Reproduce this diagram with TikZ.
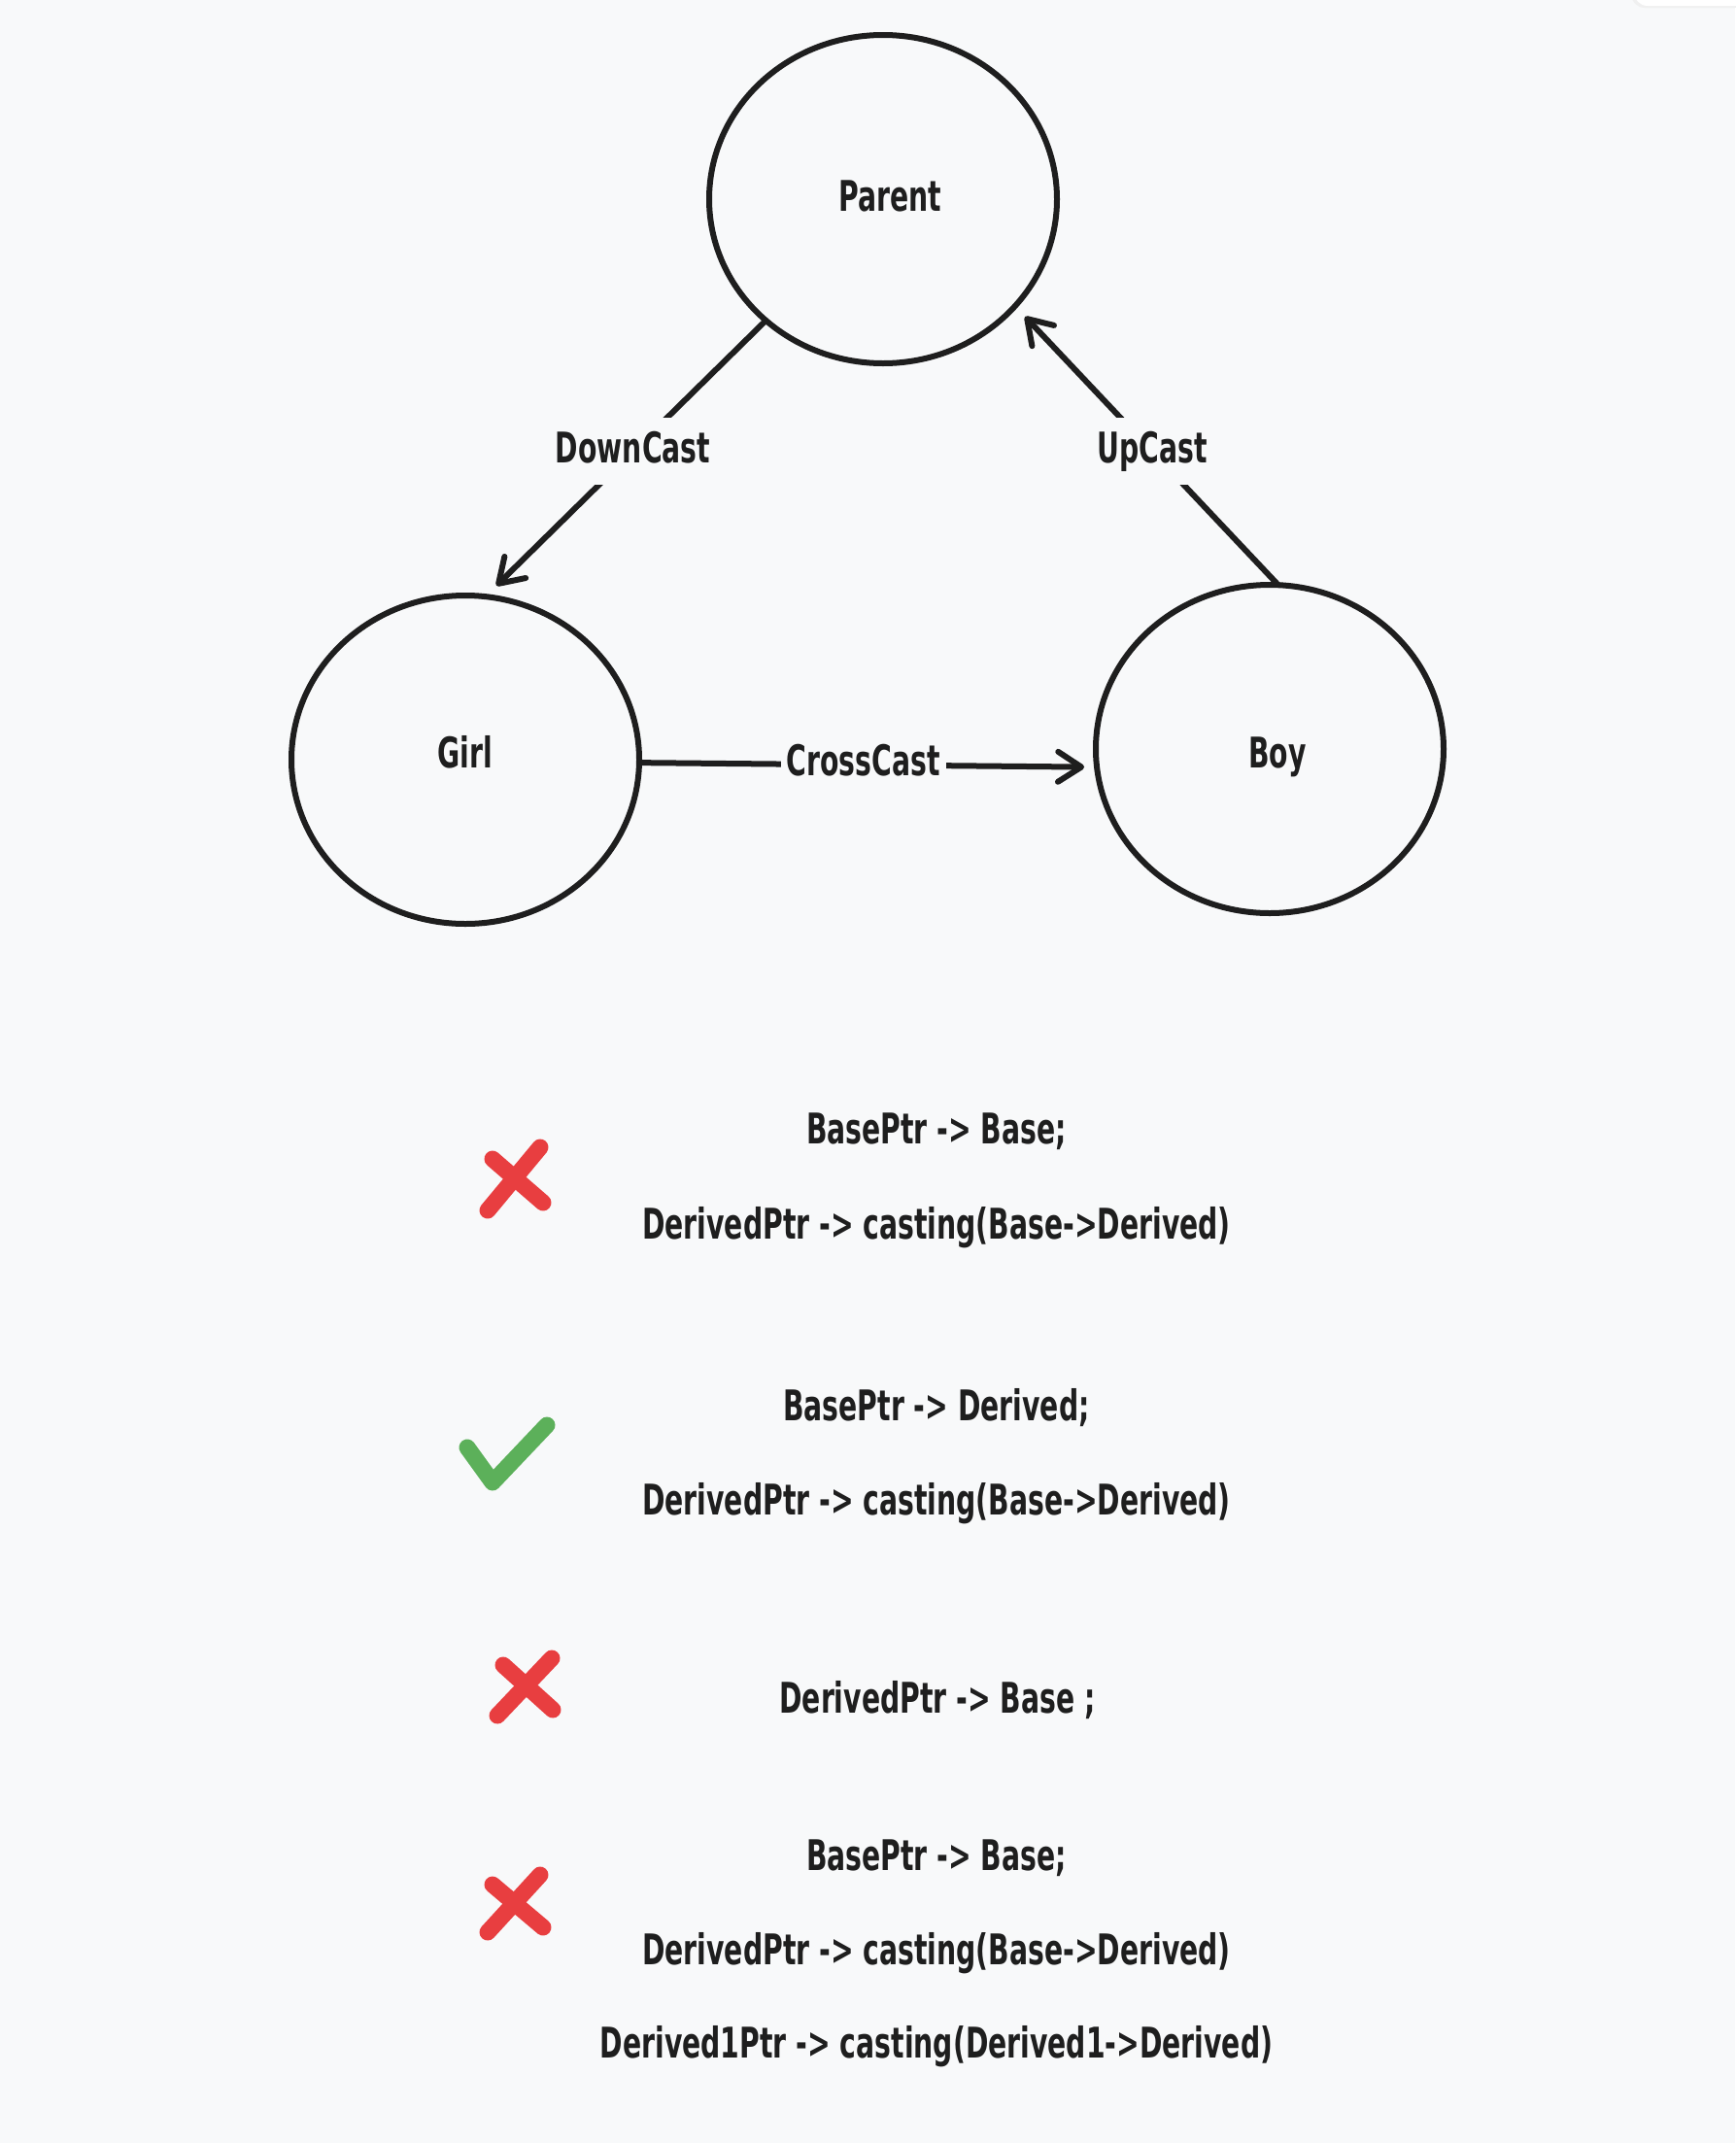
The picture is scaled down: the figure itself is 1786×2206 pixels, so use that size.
\documentclass[tikz,border=0pt]{standalone}
\usepackage{fontspec}
\newfontfamily\hand{DejaVu Sans}[FakeStretch=0.65]
\newcommand\handfont{\hand\bfseries\fontsize{43.5}{50}\selectfont}
\usetikzlibrary{shapes.geometric,arrows.meta}
\definecolor{bg}{RGB}{248,249,250}
\definecolor{ink}{RGB}{30,30,30}
\definecolor{xred}{RGB}{232,62,64}
\definecolor{okgreen}{RGB}{92,176,90}
\begin{document}
\begin{tikzpicture}[x=1pt,y=-1pt,
  circ/.style={ellipse, draw=ink, line width=6pt, minimum width=358pt, minimum height=338pt,
    inner sep=0pt, outer sep=0pt},
  ctext/.style={anchor=base, font=\handfont, text=ink, inner sep=0pt},
  conn/.style={draw=ink, line width=6pt, line cap=round,
    -{Straight Barb[length=24pt,width=31pt,line cap=round,line join=round]}},
  elabel/.style={fill=bg, inner xsep=6pt, inner ysep=15pt, text height=31pt, text depth=8pt,
    font=\handfont, text=ink},
  codetxt/.style={anchor=base, font=\handfont, text=ink, inner sep=0pt},
  bad/.style={draw=xred, line width=17pt, line cap=round},
  good/.style={draw=okgreen, line width=17pt, line cap=round, line join=round}]
\fill[bg] (0,0) rectangle (1786,2206);
\useasboundingbox (0,0) rectangle (1786,2206);
% top-right panel edge
\fill[black!6, rounded corners=14pt] (1679,-40) rectangle (1800,8);
\fill[white, rounded corners=14pt] (1682,-40) rectangle (1800,6);

% nodes
\node[circ] (parent) at (909,205) {};
\node[circ] (girl) at (479,782) {};
\node[circ] (boy) at (1307,771) {};
\node[ctext] (parentT) at (916,217) {Parent};
\node[ctext] (girlT) at (479,790) {Girl};
\node[ctext] (boyT) at (1315,790) {Boy};

% connectors
\draw[conn, shorten >=16pt] (parent.-134) -- node[elabel, pos=0.474] (dlab) {DownCast} (girl.83);
\draw[conn, shorten >=15pt] (boy.87) -- node[elabel, pos=0.479] (ulab) {UpCast} (parent.-39);
\draw[conn, shorten >=13pt] (girl.-1) -- node[elabel, pos=0.49] (clab) {CrossCast} (boy.186);

% code lines
\node[codetxt] (l1) at (964,1177) {BasePtr -> Base;};
\node[codetxt] (l2) at (964,1275) {DerivedPtr -> casting(Base->Derived)};
\node[codetxt] (l3) at (964,1462) {BasePtr -> Derived;};
\node[codetxt] (l4) at (964,1559) {DerivedPtr -> casting(Base->Derived)};
\node[codetxt] (l5) at (965,1763) {DerivedPtr -> Base ;};
\node[codetxt] (l6) at (964,1925) {BasePtr -> Base;};
\node[codetxt] (l7) at (964,2022) {DerivedPtr -> casting(Base->Derived)};
\node[codetxt] (l8) at (964,2118) {Derived1Ptr -> casting(Derived1->Derived)};

% marks
\draw[bad] (556,1181) -- (502,1246);
\draw[bad] (507,1193) -- (559,1238);
\draw[good] (481,1490) -- (507,1526) -- (563,1467);
\draw[bad] (568,1707) -- (512,1766);
\draw[bad] (518,1714) -- (569,1760);
\draw[bad] (556,1930) -- (502,1989);
\draw[bad] (507,1940) -- (559,1984);
\end{tikzpicture}
\end{document}
